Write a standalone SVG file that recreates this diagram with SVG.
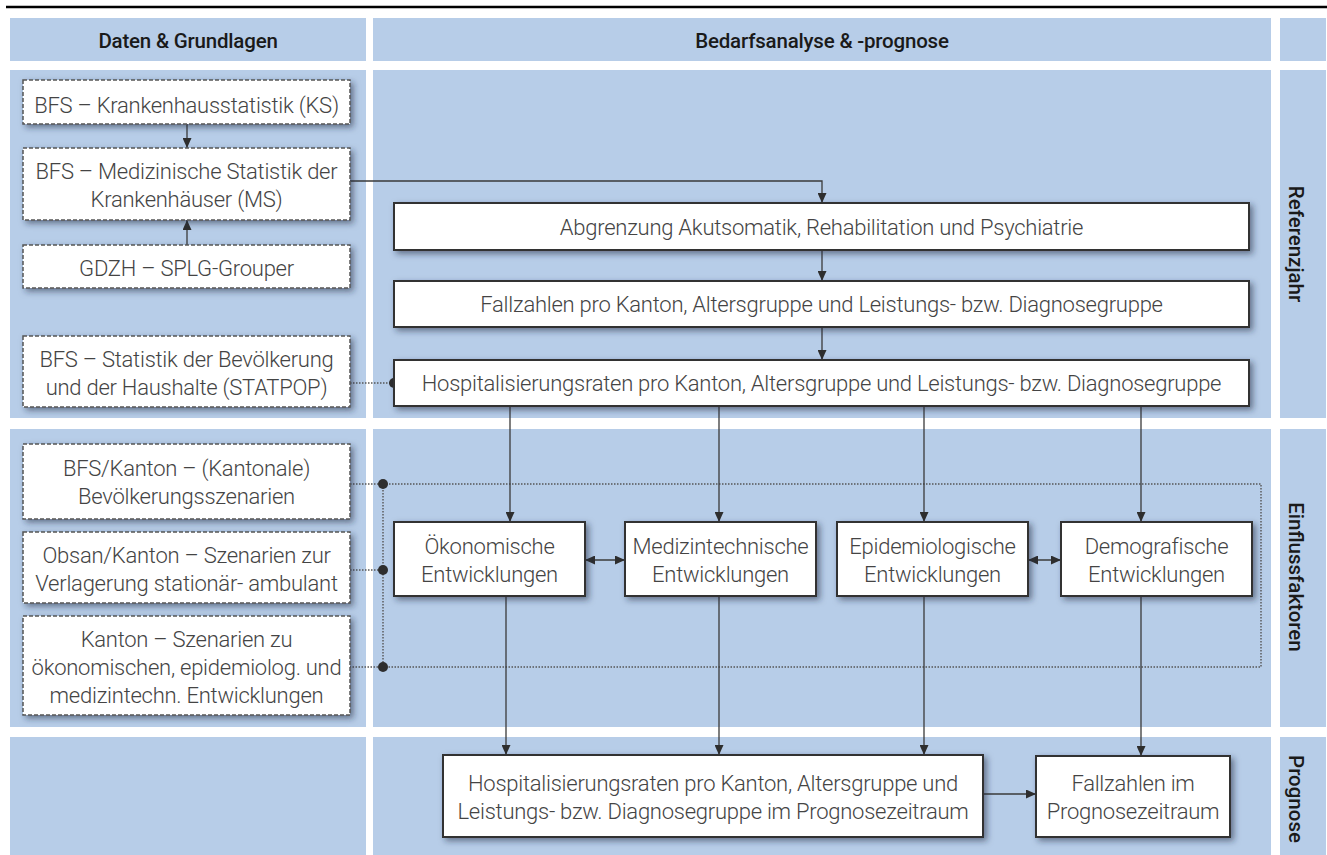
<svg xmlns="http://www.w3.org/2000/svg" width="1327" height="855" viewBox="0 0 1327 855">
<style>
.panel{fill:#b7cde8}
.hdr{font-family:Roboto,"Liberation Sans",sans-serif;font-weight:500;font-size:20.5px;fill:#1a1a1a;text-anchor:middle;letter-spacing:-0.2px}
.vlab{font-family:Roboto,"Liberation Sans",sans-serif;font-weight:500;font-size:20.5px;fill:#1a1a1a;text-anchor:middle}
.txt{font-family:Roboto,"Liberation Sans",sans-serif;font-weight:300;font-size:22px;fill:#444;text-anchor:middle;letter-spacing:-0.25px}
.src{fill:#fff;stroke:#555;stroke-width:1.5;stroke-dasharray:4 2}
.box{fill:#fff;stroke:#333;stroke-width:2}
.con{fill:none;stroke:#3a3a3a;stroke-width:1.3}
.dot{fill:none;stroke:#555;stroke-width:1.4;stroke-dasharray:1.5 1.5}
</style>
<defs>
<filter id="sh" x="-10%" y="-20%" width="130%" height="160%">
<feDropShadow dx="3" dy="3" stdDeviation="3" flood-color="#1a2a40" flood-opacity="0.55"/>
</filter>
<marker id="arr" viewBox="0 0 10 9" refX="10" refY="4.5" markerWidth="10" markerHeight="9" markerUnits="userSpaceOnUse" orient="auto-start-reverse">
<path d="M0,0 L10,4.5 L0,9 z" fill="#2e2e2e"/>
</marker>
</defs>
<rect width="1327" height="855" fill="#fff"/>
<line x1="6" y1="7" x2="1327" y2="7" stroke="#000" stroke-width="2.5"/>
<g id="panels">
<rect class="panel" x="10" y="18" width="356" height="43"/>
<rect class="panel" x="373" y="18" width="898" height="43"/>
<rect class="panel" x="1280" y="18" width="46" height="43"/>
<rect class="panel" x="10" y="70" width="356" height="348"/>
<rect class="panel" x="373" y="70" width="898" height="348"/>
<rect class="panel" x="1280" y="70" width="46" height="348"/>
<rect class="panel" x="10" y="429" width="356" height="298"/>
<rect class="panel" x="373" y="429" width="898" height="298"/>
<rect class="panel" x="1280" y="429" width="46" height="298"/>
<rect class="panel" x="10" y="737" width="356" height="118"/>
<rect class="panel" x="373" y="737" width="898" height="118"/>
<rect class="panel" x="1280" y="737" width="46" height="118"/>
<text class="hdr" x="188" y="48">Daten &amp; Grundlagen</text>
<text class="hdr" x="822" y="48">Bedarfsanalyse &amp; -prognose</text>
<text class="vlab" transform="translate(1289,244) rotate(90)">Referenzjahr</text>
<text class="vlab" transform="translate(1289,577) rotate(90)">Einflussfaktoren</text>
<text class="vlab" transform="translate(1289,799) rotate(90)">Prognose</text>
</g>
<g id="connectors">
<path class="con" d="M187 124 V148" marker-end="url(#arr)"/>
<path class="con" d="M187 245 V220" marker-end="url(#arr)"/>
<path class="con" d="M350 181 H822 V203" marker-end="url(#arr)"/>
<path class="con" d="M822 250 V281" marker-end="url(#arr)"/>
<path class="con" d="M822 327 V360" marker-end="url(#arr)"/>
<path class="dot" d="M350 383 H394"/>
<circle cx="394" cy="383" r="5" fill="#2e2e2e"/>
<path class="dot" d="M350 484 H1261 V667 H350 M383 484 V667 M350 570 H383"/>
<circle cx="383" cy="484" r="5" fill="#2e2e2e"/>
<circle cx="383" cy="570" r="5" fill="#2e2e2e"/>
<circle cx="383" cy="667" r="5" fill="#2e2e2e"/>
<path class="con" d="M510 406 V522" marker-end="url(#arr)"/>
<path class="con" d="M719 406 V522" marker-end="url(#arr)"/>
<path class="con" d="M924 406 V522" marker-end="url(#arr)"/>
<path class="con" d="M1141 406 V522" marker-end="url(#arr)"/>
<path class="con" d="M585 560 H625" marker-start="url(#arr)" marker-end="url(#arr)"/>
<path class="con" d="M1028 560 H1061" marker-start="url(#arr)" marker-end="url(#arr)"/>
<path class="con" d="M506 596 V755" marker-end="url(#arr)"/>
<path class="con" d="M719 596 V755" marker-end="url(#arr)"/>
<path class="con" d="M924 596 V755" marker-end="url(#arr)"/>
<path class="con" d="M1141 596 V756" marker-end="url(#arr)"/>
<path class="con" d="M983 794 H1036" marker-end="url(#arr)"/>
</g>
<g id="n-ks">
<rect class="src" x="23" y="80" width="327" height="44" filter="url(#sh)"/>
<text class="txt" x="186.5" y="112.5">BFS – Krankenhausstatistik (KS)</text>
</g>
<g id="n-ms">
<rect class="src" x="23" y="148" width="327" height="72" filter="url(#sh)"/>
<text class="txt" x="186.5" y="179">BFS – Medizinische Statistik der</text>
<text class="txt" x="186.5" y="207">Krankenhäuser (MS)</text>
</g>
<g id="n-splg">
<rect class="src" x="23" y="245" width="327" height="43" filter="url(#sh)"/>
<text class="txt" x="186.5" y="276">GDZH – SPLG-Grouper</text>
</g>
<g id="n-statpop">
<rect class="src" x="23" y="336" width="327" height="71" filter="url(#sh)"/>
<text class="txt" x="186.5" y="367">BFS – Statistik der Bevölkerung</text>
<text class="txt" x="186.5" y="395">und der Haushalte (STATPOP)</text>
</g>
<g id="n-bevszen">
<rect class="src" x="23" y="444" width="327" height="75" filter="url(#sh)"/>
<text class="txt" x="186.5" y="476">BFS/Kanton – (Kantonale)</text>
<text class="txt" x="186.5" y="504">Bevölkerungsszenarien</text>
</g>
<g id="n-obsan">
<rect class="src" x="23" y="532" width="327" height="71" filter="url(#sh)"/>
<text class="txt" x="186.5" y="563">Obsan/Kanton – Szenarien zur</text>
<text class="txt" x="186.5" y="591">Verlagerung stationär- ambulant</text>
</g>
<g id="n-kanton">
<rect class="src" x="23" y="616" width="327" height="99" filter="url(#sh)"/>
<text class="txt" x="186.5" y="647">Kanton – Szenarien zu</text>
<text class="txt" x="186.5" y="675">ökonomischen, epidemiolog. und</text>
<text class="txt" x="186.5" y="703">medizintechn. Entwicklungen</text>
</g>
<g id="n-abgrenzung">
<rect class="box" x="394" y="203" width="855" height="47" filter="url(#sh)"/>
<text class="txt" x="821.5" y="235">Abgrenzung Akutsomatik, Rehabilitation und Psychiatrie</text>
</g>
<g id="n-fallzahlen">
<rect class="box" x="394" y="281" width="855" height="46" filter="url(#sh)"/>
<text class="txt" x="821.5" y="312">Fallzahlen pro Kanton, Altersgruppe und Leistungs- bzw. Diagnosegruppe</text>
</g>
<g id="n-hosp">
<rect class="box" x="394" y="360" width="855" height="46" filter="url(#sh)"/>
<text class="txt" x="821.5" y="391">Hospitalisierungsraten pro Kanton, Altersgruppe und Leistungs- bzw. Diagnosegruppe</text>
</g>
<g id="n-oekon">
<rect class="box" x="394" y="522" width="191" height="74" filter="url(#sh)"/>
<text class="txt" x="489.5" y="554">Ökonomische</text>
<text class="txt" x="489.5" y="582">Entwicklungen</text>
</g>
<g id="n-medtech">
<rect class="box" x="625" y="522" width="191" height="74" filter="url(#sh)"/>
<text class="txt" x="720.5" y="554">Medizintechnische</text>
<text class="txt" x="720.5" y="582">Entwicklungen</text>
</g>
<g id="n-epidem">
<rect class="box" x="837" y="522" width="191" height="74" filter="url(#sh)"/>
<text class="txt" x="932.5" y="554">Epidemiologische</text>
<text class="txt" x="932.5" y="582">Entwicklungen</text>
</g>
<g id="n-demo">
<rect class="box" x="1061" y="522" width="191" height="74" filter="url(#sh)"/>
<text class="txt" x="1156.5" y="554">Demografische</text>
<text class="txt" x="1156.5" y="582">Entwicklungen</text>
</g>
<g id="n-prog-hosp">
<rect class="box" x="443" y="755" width="540" height="82" filter="url(#sh)"/>
<text class="txt" x="713" y="791">Hospitalisierungsraten pro Kanton, Altersgruppe und</text>
<text class="txt" x="713" y="819">Leistungs- bzw. Diagnosegruppe im Prognosezeitraum</text>
</g>
<g id="n-prog-fall">
<rect class="box" x="1036" y="756" width="194" height="81" filter="url(#sh)"/>
<text class="txt" x="1133" y="791">Fallzahlen im</text>
<text class="txt" x="1133" y="819">Prognosezeitraum</text>
</g>
</svg>
